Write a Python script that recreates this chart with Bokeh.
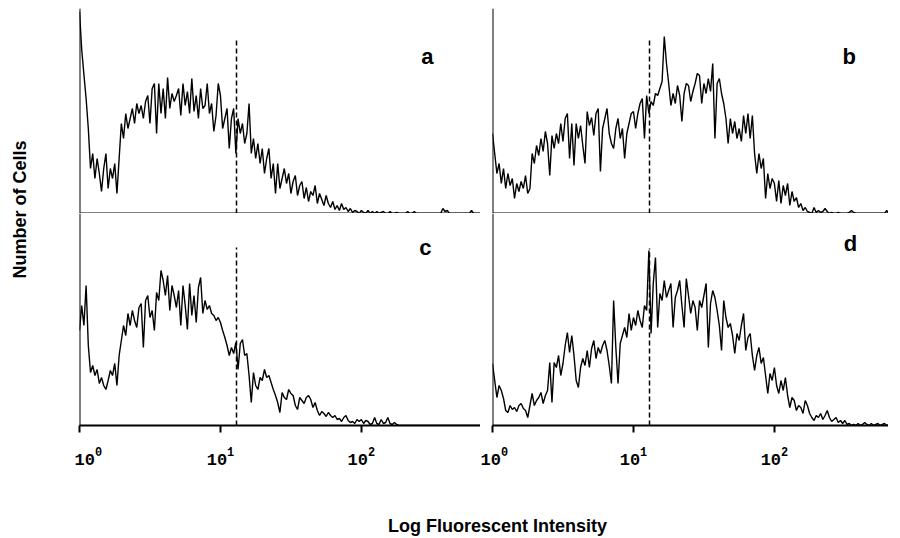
import numpy as np
from bokeh.plotting import figure
from bokeh.layouts import row, column
from bokeh.models import Range1d, Span, LogAxis, FixedTicker, LogTickFormatter
from bokeh.core.properties import value
from bokeh.embed import file_html
from bokeh.resources import INLINE

# ---------------- data ----------------
channels_per_decade = 64
panel_labels = ["a", "b", "c", "d"]

counts_a = [202, 164, 139, 115, 85, 45, 60, 35, 55, 40,
            22, 45, 60, 25, 45, 35, 50, 20, 55, 90,
            75, 100, 85, 95, 105, 90, 110, 100, 108, 95,
            112, 118, 90, 125, 130, 80, 130, 100, 125, 95,
            136, 105, 120, 112, 118, 125, 98, 130, 108, 122,
            100, 135, 102, 118, 95, 125, 105, 108, 130, 100,
            110, 82, 98, 130, 118, 85, 95, 105, 65, 95,
            105, 60, 95, 80, 90, 70, 80, 110, 60, 75,
            55, 70, 50, 65, 40, 55, 65, 35, 50, 20,
            50, 25, 35, 45, 30, 40, 20, 32, 38, 18,
            28, 32, 15, 26, 12, 22, 18, 28, 10, 20,
            14, 8, 18, 10, 6, 12, 4, 8, 3, 10,
            4, 6, 2, 5, 1, 3, 2, 0, 3, 1,
            0, 3, 0, 2, 0, 2, 0, 1, 2, 0,
            0, 2, 0, 0, 1, 0, 0, 0, 0, 2,
            0, 0, 2, 0, 0, 0, 0, 0, 0, 0,
            0, 0, 0, 0, 0, 5, 2, 3, 0, 0,
            0, 0, 0, 0, 0, 0, 0, 0, 3, 0,
            0, 0, 0]

counts_b = [80, 60, 40, 50, 30, 45, 25, 40, 28, 35,
            15, 30, 22, 32, 25, 38, 20, 25, 60, 50,
            68, 58, 75, 62, 82, 70, 38, 78, 65, 80,
            70, 90, 72, 95, 100, 55, 90, 48, 90, 75,
            88, 68, 50, 102, 88, 96, 78, 100, 105, 42,
            85, 95, 105, 80, 70, 65, 85, 95, 75, 85,
            55, 80, 90, 100, 102, 85, 100, 110, 115, 75,
            118, 100, 112, 108, 120, 118, 125, 132, 177, 150,
            130, 108, 120, 110, 128, 118, 92, 120, 130, 128,
            112, 122, 130, 140, 138, 110, 130, 120, 135, 122,
            150, 75, 130, 135, 120, 110, 95, 70, 95, 80,
            92, 75, 85, 72, 98, 80, 100, 75, 98, 60,
            40, 60, 45, 55, 15, 40, 25, 35, 30, 12,
            33, 10, 28, 18, 30, 8, 22, 12, 16, 6,
            10, 3, 6, 2, 1, 0, 6, 1, 3, 1,
            2, 5, 2, 0, 1, 0, 0, 1, 0, 0,
            0, 0, 1, 3, 1, 0, 0, 0, 0, 0,
            0, 0, 0, 0, 0, 0, 0, 0, 0, 3,
            0]

counts_c = [95, 120, 100, 140, 80, 53, 60, 50, 56, 42,
            48, 40, 36, 45, 55, 50, 62, 40, 70, 85,
            100, 90, 112, 100, 115, 105, 98, 118, 122, 78,
            125, 130, 108, 115, 95, 133, 125, 155, 145, 130,
            150, 115, 140, 130, 118, 135, 100, 140, 120, 96,
            142, 110, 130, 103, 138, 148, 112, 125, 116, 120,
            112, 110, 105, 108, 103, 95, 88, 80, 70, 78,
            72, 83, 56, 82, 86, 70, 72, 50, 23, 53,
            40, 36, 48, 45, 56, 48, 50, 43, 36, 30,
            23, 13, 33, 28, 26, 36, 32, 30, 20, 16,
            28, 25, 22, 28, 30, 26, 18, 23, 15, 10,
            14, 12, 9, 13, 10, 8, 10, 6, 7, 4,
            8, 10, 5, 3, 4, 2, 6, 4, 6, 2,
            5, 4, 1, 2, 8, 2, 1, 6, 2, 3,
            8, 2, 1, 3, 1, 0, 0, 0, 0, 0,
            0, 0, 0, 0, 0, 0, 0, 0, 0, 0,
            0, 0, 0, 0, 0, 0, 0, 0, 0, 0,
            0, 0, 0, 0, 0, 0, 0, 0, 0, 0,
            0, 0, 0]

counts_d = [62, 45, 28, 40, 35, 27, 15, 13, 20, 16,
            18, 14, 20, 22, 17, 15, 8, 20, 32, 20,
            25, 28, 33, 22, 30, 35, 63, 23, 63, 58,
            70, 50, 62, 80, 93, 73, 90, 70, 45, 38,
            58, 67, 60, 75, 58, 77, 85, 67, 78, 72,
            80, 85, 75, 60, 42, 125, 78, 42, 82, 90,
            98, 88, 112, 95, 108, 100, 115, 105, 98, 120,
            115, 175, 92, 142, 168, 98, 132, 125, 145, 128,
            135, 142, 98, 128, 135, 145, 120, 98, 147, 130,
            112, 125, 118, 95, 125, 118, 130, 142, 78, 122,
            135, 128, 115, 100, 75, 125, 108, 98, 102, 90,
            72, 92, 85, 100, 112, 75, 88, 92, 70, 55,
            70, 78, 62, 68, 50, 32, 52, 45, 58, 40,
            32, 45, 35, 48, 30, 18, 28, 25, 15, 20,
            18, 12, 25, 20, 12, 8, 5, 10, 8, 12,
            6, 10, 15, 8, 4, 6, 8, 3, 5, 2,
            5, 1, 2, 0, 1, 0, 2, 0, 1, 3,
            1, 0, 2, 0, 1, 2, 0, 1, 2, 0,
            1]

all_counts = [counts_a, counts_b, counts_c, counts_d]
cutoff = [13, 13, 13, 13]            # dashed gate position
cutoff_top = [176, 175, 178, 177]    # dashed gate height
x_start = 1
x_end = [700, 645, 700, 645]
y_top = [205, 205, 212, 212]
tick_values = [1, 10, 100]
label_pos_x = [294, 340, 284, 346]
label_pos_y = [157, 157, 178, 182]

FONT = "Liberation Sans"


def make_panel(k, width, height, b_left, b_top, b_bottom, with_axis):
    p = figure(width=width, height=height, x_axis_type="log",
               x_range=Range1d(x_start, x_end[k]), y_range=Range1d(0, y_top[k]),
               x_axis_location=None, y_axis_location=None,
               toolbar_location=None, output_backend="svg",
               min_border_left=b_left, min_border_right=0,
               min_border_top=b_top, min_border_bottom=b_bottom,
               outline_line_color=None, background_fill_color="white",
               border_fill_color="white")
    p.grid.visible = False
    counts = all_counts[k]
    xs = 10 ** (np.arange(len(counts)) / channels_per_decade)
    p.line(xs, counts, line_color="black", line_width=1.4)
    p.segment(x0=[cutoff[k]], y0=[0], x1=[cutoff[k]], y1=[cutoff_top[k]],
              line_color="black", line_width=1.5, line_dash="5 3")
    p.add_layout(Span(location=x_start, dimension="height",
                      line_color="black", line_width=2))
    if with_axis:
        ax = LogAxis(ticker=FixedTicker(ticks=tick_values),
                     formatter=LogTickFormatter(),
                     axis_line_width=2, axis_line_color="black",
                     major_tick_out=7, major_tick_in=0,
                     major_tick_line_width=2,
                     minor_tick_out=0, minor_tick_in=0,
                     major_label_standoff=14,
                     major_label_text_font="Liberation Mono",
                     major_label_text_font_style="bold",
                     major_label_text_font_size="17px",
                     major_label_text_color="black")
        p.add_layout(ax, "below")
    else:
        p.add_layout(Span(location=0, dimension="width",
                          line_color="black", line_width=2))
    p.text(x=[label_pos_x[k]], y=[label_pos_y[k]], text=[panel_labels[k]],
           text_align="center", text_baseline="alphabetic",
           text_font=value(FONT), text_font_style="bold",
           text_font_size="22px", text_color="black")
    return p


pa = make_panel(0, 406, 213, 5, 8, 0, False)
pb = make_panel(1, 408, 213, 12, 8, 0, False)
pc = make_panel(2, 406, 262, 5, 0, 50, True)
pd = make_panel(3, 408, 262, 12, 0, 50, True)

# y-axis title
ylab = figure(width=74, height=475, x_range=Range1d(0, 74), y_range=Range1d(0, 475),
              x_axis_location=None, y_axis_location=None, toolbar_location=None,
              output_backend="svg", min_border=0, outline_line_color=None)
ylab.grid.visible = False
ylab.text(x=[19], y=[266], text=["Number of Cells"], angle=np.pi / 2,
          text_align="center", text_baseline="middle",
          text_font=value(FONT), text_font_style="bold",
          text_font_size="18px", text_color="black")

# x-axis title
xlab = figure(width=816, height=62, x_range=Range1d(0, 816), y_range=Range1d(0, 62),
              x_axis_location=None, y_axis_location=None, toolbar_location=None,
              output_backend="svg", min_border=0, outline_line_color=None)
xlab.grid.visible = False
xlab.text(x=[423], y=[12], text=["Log Fluorescent Intensity"],
          text_align="center", text_baseline="middle",
          text_font=value(FONT), text_font_style="bold",
          text_font_size="18px", text_color="black")

layout = row(ylab, column(row(pa, pb), row(pc, pd), xlab))

open("out.html", "w").write(file_html(layout, INLINE))
